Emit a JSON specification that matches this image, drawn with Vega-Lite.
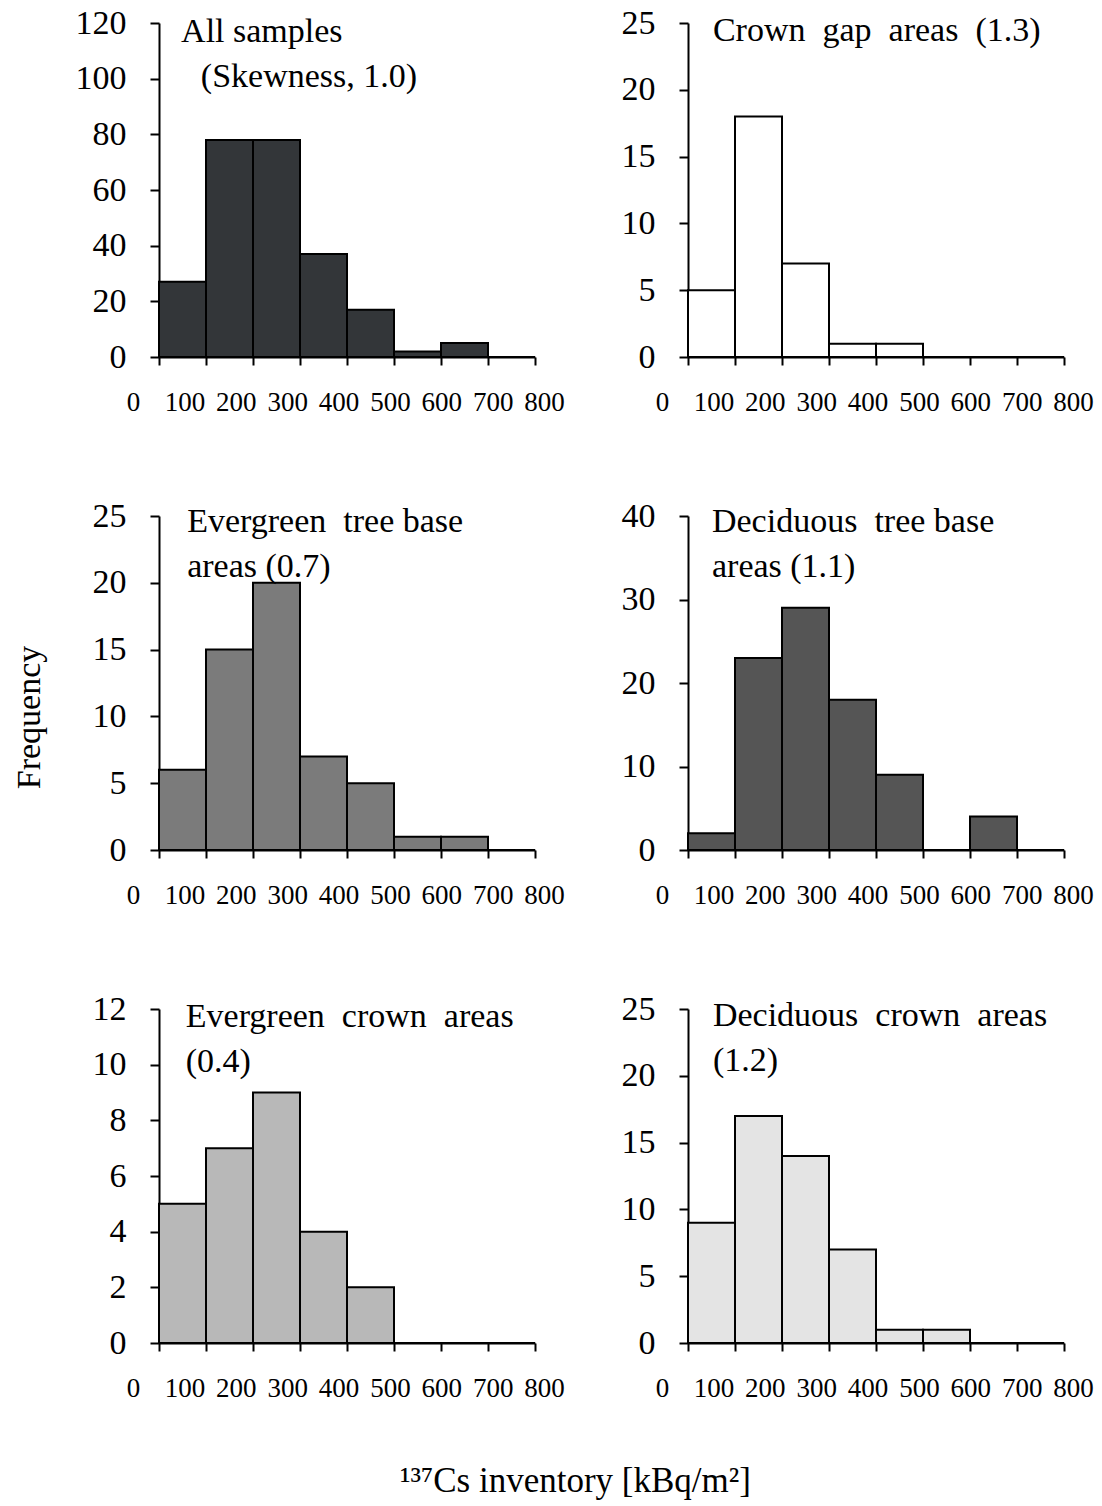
{
  "$schema": "https://vega.github.io/schema/vega-lite/v6.json",
  "padding": {"left": 12, "top": 6, "right": 5, "bottom": 5},
  "background": "white",
  "title": {"text": "¹³⁷Cs inventory [kBq/m²]", "orient": "bottom", "anchor": "middle", "fontSize": 35, "font": "Liberation Serif", "fontWeight": "normal", "color": "#000000", "offset": 63, "dx": 20},
  "datasets": {
    "hist": [
      {"panel": "all", "start": 0, "end": 100, "count": 27},
      {"panel": "all", "start": 100, "end": 200, "count": 78},
      {"panel": "all", "start": 200, "end": 300, "count": 78},
      {"panel": "all", "start": 300, "end": 400, "count": 37},
      {"panel": "all", "start": 400, "end": 500, "count": 17},
      {"panel": "all", "start": 500, "end": 600, "count": 2},
      {"panel": "all", "start": 600, "end": 700, "count": 5},
      {"panel": "all", "start": 700, "end": 800, "count": 0},
      {"panel": "gap", "start": 0, "end": 100, "count": 5},
      {"panel": "gap", "start": 100, "end": 200, "count": 18},
      {"panel": "gap", "start": 200, "end": 300, "count": 7},
      {"panel": "gap", "start": 300, "end": 400, "count": 1},
      {"panel": "gap", "start": 400, "end": 500, "count": 1},
      {"panel": "gap", "start": 500, "end": 600, "count": 0},
      {"panel": "gap", "start": 600, "end": 700, "count": 0},
      {"panel": "gap", "start": 700, "end": 800, "count": 0},
      {"panel": "etb", "start": 0, "end": 100, "count": 6},
      {"panel": "etb", "start": 100, "end": 200, "count": 15},
      {"panel": "etb", "start": 200, "end": 300, "count": 20},
      {"panel": "etb", "start": 300, "end": 400, "count": 7},
      {"panel": "etb", "start": 400, "end": 500, "count": 5},
      {"panel": "etb", "start": 500, "end": 600, "count": 1},
      {"panel": "etb", "start": 600, "end": 700, "count": 1},
      {"panel": "etb", "start": 700, "end": 800, "count": 0},
      {"panel": "dtb", "start": 0, "end": 100, "count": 2},
      {"panel": "dtb", "start": 100, "end": 200, "count": 23},
      {"panel": "dtb", "start": 200, "end": 300, "count": 29},
      {"panel": "dtb", "start": 300, "end": 400, "count": 18},
      {"panel": "dtb", "start": 400, "end": 500, "count": 9},
      {"panel": "dtb", "start": 500, "end": 600, "count": 0},
      {"panel": "dtb", "start": 600, "end": 700, "count": 4},
      {"panel": "dtb", "start": 700, "end": 800, "count": 0},
      {"panel": "ec", "start": 0, "end": 100, "count": 5},
      {"panel": "ec", "start": 100, "end": 200, "count": 7},
      {"panel": "ec", "start": 200, "end": 300, "count": 9},
      {"panel": "ec", "start": 300, "end": 400, "count": 4},
      {"panel": "ec", "start": 400, "end": 500, "count": 2},
      {"panel": "ec", "start": 500, "end": 600, "count": 0},
      {"panel": "ec", "start": 600, "end": 700, "count": 0},
      {"panel": "ec", "start": 700, "end": 800, "count": 0},
      {"panel": "dc", "start": 0, "end": 100, "count": 9},
      {"panel": "dc", "start": 100, "end": 200, "count": 17},
      {"panel": "dc", "start": 200, "end": 300, "count": 14},
      {"panel": "dc", "start": 300, "end": 400, "count": 7},
      {"panel": "dc", "start": 400, "end": 500, "count": 1},
      {"panel": "dc", "start": 500, "end": 600, "count": 1},
      {"panel": "dc", "start": 600, "end": 700, "count": 0},
      {"panel": "dc", "start": 700, "end": 800, "count": 0}
    ],
    "xlab": [{"v": 0}, {"v": 100}, {"v": 200}, {"v": 300}, {"v": 400}, {"v": 500}, {"v": 600}, {"v": 700}, {"v": 800}]
  },
  "columns": 2,
  "spacing": {"row": 84, "column": 51},
  "concat": [
    {
      "width": 376, "height": 334,
      "layer": [
        {"data": {"name": "hist"}, "transform": [{"filter": "datum.panel === 'all'"}],
         "mark": {"type": "rect", "fill": "#333639", "stroke": "#000000", "strokeWidth": 2},
         "encoding": {
           "x": {"field": "start", "type": "quantitative", "scale": {"domain": [0, 800], "nice": false, "zero": false}, "axis": {"orient": "bottom", "values": [0, 100, 200, 300, 400, 500, 600, 700, 800], "labels": false, "tickSize": 8, "title": null}},
           "x2": {"field": "end"},
           "y": {"field": "count", "type": "quantitative", "scale": {"domain": [0, 120], "nice": false}, "axis": {"values": [0, 20, 40, 60, 80, 100, 120], "title": null}},
           "y2": {"datum": 0}
         }},
        {"data": {"values": [{}]},
         "mark": {"type": "text", "text": "All samples", "align": "left", "baseline": "alphabetic", "fontSize": 34, "font": "Liberation Serif", "color": "#000000"},
         "encoding": {"x": {"datum": 47, "type": "quantitative", "scale": {"domain": [0, 800], "nice": false}, "axis": null}, "y": {"datum": 113.2, "type": "quantitative"}}},
        {"data": {"values": [{}]},
         "mark": {"type": "text", "text": "(Skewness, 1.0)", "align": "left", "baseline": "alphabetic", "fontSize": 34, "font": "Liberation Serif", "color": "#000000"},
         "encoding": {"x": {"datum": 89, "type": "quantitative", "scale": {"domain": [0, 800], "nice": false}, "axis": null}, "y": {"datum": 97, "type": "quantitative"}}},
        {"data": {"name": "xlab"},
         "mark": {"type": "point", "opacity": 0},
         "encoding": {"x": {"field": "v", "type": "quantitative", "scale": {"domain": [0, 800], "range": [-26, 385], "nice": false, "zero": false}, "axis": {"orient": "bottom", "values": [0, 100, 200, 300, 400, 500, 600, 700, 800], "domain": false, "ticks": false, "tickSize": 0, "labelPadding": 32, "labelFontSize": 27, "labelFlush": false, "labelOverlap": false, "title": null}}}}
      ],
      "resolve": {"scale": {"x": "independent"}, "axis": {"x": "independent"}}
    },
    {
      "width": 376, "height": 334,
      "layer": [
        {"data": {"name": "hist"}, "transform": [{"filter": "datum.panel === 'gap'"}],
         "mark": {"type": "rect", "fill": "#ffffff", "stroke": "#000000", "strokeWidth": 2},
         "encoding": {
           "x": {"field": "start", "type": "quantitative", "scale": {"domain": [0, 800], "nice": false, "zero": false}, "axis": {"orient": "bottom", "values": [0, 100, 200, 300, 400, 500, 600, 700, 800], "labels": false, "tickSize": 8, "title": null}},
           "x2": {"field": "end"},
           "y": {"field": "count", "type": "quantitative", "scale": {"domain": [0, 25], "nice": false}, "axis": {"values": [0, 5, 10, 15, 20, 25], "title": null}},
           "y2": {"datum": 0}
         }},
        {"data": {"values": [{}]},
         "mark": {"type": "text", "text": "Crown\u2002gap\u2002areas\u2002(1.3)", "align": "left", "baseline": "alphabetic", "fontSize": 34, "font": "Liberation Serif", "color": "#000000"},
         "encoding": {"x": {"datum": 53, "type": "quantitative", "scale": {"domain": [0, 800], "nice": false}, "axis": null}, "y": {"datum": 23.65, "type": "quantitative"}}},
        {"data": {"name": "xlab"},
         "mark": {"type": "point", "opacity": 0},
         "encoding": {"x": {"field": "v", "type": "quantitative", "scale": {"domain": [0, 800], "range": [-26, 385], "nice": false, "zero": false}, "axis": {"orient": "bottom", "values": [0, 100, 200, 300, 400, 500, 600, 700, 800], "domain": false, "ticks": false, "tickSize": 0, "labelPadding": 32, "labelFontSize": 27, "labelFlush": false, "labelOverlap": false, "title": null}}}}
      ],
      "resolve": {"scale": {"x": "independent"}, "axis": {"x": "independent"}}
    },
    {
      "width": 376, "height": 334,
      "layer": [
        {"data": {"name": "hist"}, "transform": [{"filter": "datum.panel === 'etb'"}],
         "mark": {"type": "rect", "fill": "#7b7b7b", "stroke": "#000000", "strokeWidth": 2},
         "encoding": {
           "x": {"field": "start", "type": "quantitative", "scale": {"domain": [0, 800], "nice": false, "zero": false}, "axis": {"orient": "bottom", "values": [0, 100, 200, 300, 400, 500, 600, 700, 800], "labels": false, "tickSize": 8, "title": null}},
           "x2": {"field": "end"},
           "y": {"field": "count", "type": "quantitative", "scale": {"domain": [0, 25], "nice": false}, "axis": {"values": [0, 5, 10, 15, 20, 25], "title": "Frequency", "titleFontSize": 34, "titlePadding": 46, "titleY": 201}},
           "y2": {"datum": 0}
         }},
        {"data": {"values": [{}]},
         "mark": {"type": "text", "text": ["Evergreen\u2002tree base", "areas (0.7)"], "align": "left", "baseline": "alphabetic", "fontSize": 34, "lineHeight": 45, "font": "Liberation Serif", "color": "#000000"},
         "encoding": {"x": {"datum": 60, "type": "quantitative", "scale": {"domain": [0, 800], "nice": false}, "axis": null}, "y": {"datum": 23.8, "type": "quantitative"}}},
        {"data": {"name": "xlab"},
         "mark": {"type": "point", "opacity": 0},
         "encoding": {"x": {"field": "v", "type": "quantitative", "scale": {"domain": [0, 800], "range": [-26, 385], "nice": false, "zero": false}, "axis": {"orient": "bottom", "values": [0, 100, 200, 300, 400, 500, 600, 700, 800], "domain": false, "ticks": false, "tickSize": 0, "labelPadding": 32, "labelFontSize": 27, "labelFlush": false, "labelOverlap": false, "title": null}}}}
      ],
      "resolve": {"scale": {"x": "independent"}, "axis": {"x": "independent"}}
    },
    {
      "width": 376, "height": 334,
      "layer": [
        {"data": {"name": "hist"}, "transform": [{"filter": "datum.panel === 'dtb'"}],
         "mark": {"type": "rect", "fill": "#555555", "stroke": "#000000", "strokeWidth": 2},
         "encoding": {
           "x": {"field": "start", "type": "quantitative", "scale": {"domain": [0, 800], "nice": false, "zero": false}, "axis": {"orient": "bottom", "values": [0, 100, 200, 300, 400, 500, 600, 700, 800], "labels": false, "tickSize": 8, "title": null}},
           "x2": {"field": "end"},
           "y": {"field": "count", "type": "quantitative", "scale": {"domain": [0, 40], "nice": false}, "axis": {"values": [0, 10, 20, 30, 40], "title": null}},
           "y2": {"datum": 0}
         }},
        {"data": {"values": [{}]},
         "mark": {"type": "text", "text": ["Deciduous\u2002tree base", "areas (1.1)"], "align": "left", "baseline": "alphabetic", "fontSize": 34, "lineHeight": 45, "font": "Liberation Serif", "color": "#000000"},
         "encoding": {"x": {"datum": 51, "type": "quantitative", "scale": {"domain": [0, 800], "nice": false}, "axis": null}, "y": {"datum": 38.1, "type": "quantitative"}}},
        {"data": {"name": "xlab"},
         "mark": {"type": "point", "opacity": 0},
         "encoding": {"x": {"field": "v", "type": "quantitative", "scale": {"domain": [0, 800], "range": [-26, 385], "nice": false, "zero": false}, "axis": {"orient": "bottom", "values": [0, 100, 200, 300, 400, 500, 600, 700, 800], "domain": false, "ticks": false, "tickSize": 0, "labelPadding": 32, "labelFontSize": 27, "labelFlush": false, "labelOverlap": false, "title": null}}}}
      ],
      "resolve": {"scale": {"x": "independent"}, "axis": {"x": "independent"}}
    },
    {
      "width": 376, "height": 334,
      "layer": [
        {"data": {"name": "hist"}, "transform": [{"filter": "datum.panel === 'ec'"}],
         "mark": {"type": "rect", "fill": "#b8b8b8", "stroke": "#000000", "strokeWidth": 2},
         "encoding": {
           "x": {"field": "start", "type": "quantitative", "scale": {"domain": [0, 800], "nice": false, "zero": false}, "axis": {"orient": "bottom", "values": [0, 100, 200, 300, 400, 500, 600, 700, 800], "labels": false, "tickSize": 8, "title": null}},
           "x2": {"field": "end"},
           "y": {"field": "count", "type": "quantitative", "scale": {"domain": [0, 12], "nice": false}, "axis": {"values": [0, 2, 4, 6, 8, 10, 12], "title": null}},
           "y2": {"datum": 0}
         }},
        {"data": {"values": [{}]},
         "mark": {"type": "text", "text": ["Evergreen\u2002crown\u2002areas", "(0.4)"], "align": "left", "baseline": "alphabetic", "fontSize": 34, "lineHeight": 45, "font": "Liberation Serif", "color": "#000000"},
         "encoding": {"x": {"datum": 57, "type": "quantitative", "scale": {"domain": [0, 800], "nice": false}, "axis": null}, "y": {"datum": 11.35, "type": "quantitative"}}},
        {"data": {"name": "xlab"},
         "mark": {"type": "point", "opacity": 0},
         "encoding": {"x": {"field": "v", "type": "quantitative", "scale": {"domain": [0, 800], "range": [-26, 385], "nice": false, "zero": false}, "axis": {"orient": "bottom", "values": [0, 100, 200, 300, 400, 500, 600, 700, 800], "domain": false, "ticks": false, "tickSize": 0, "labelPadding": 32, "labelFontSize": 27, "labelFlush": false, "labelOverlap": false, "title": null}}}}
      ],
      "resolve": {"scale": {"x": "independent"}, "axis": {"x": "independent"}}
    },
    {
      "width": 376, "height": 334,
      "layer": [
        {"data": {"name": "hist"}, "transform": [{"filter": "datum.panel === 'dc'"}],
         "mark": {"type": "rect", "fill": "#e4e4e4", "stroke": "#000000", "strokeWidth": 2},
         "encoding": {
           "x": {"field": "start", "type": "quantitative", "scale": {"domain": [0, 800], "nice": false, "zero": false}, "axis": {"orient": "bottom", "values": [0, 100, 200, 300, 400, 500, 600, 700, 800], "labels": false, "tickSize": 8, "title": null}},
           "x2": {"field": "end"},
           "y": {"field": "count", "type": "quantitative", "scale": {"domain": [0, 25], "nice": false}, "axis": {"values": [0, 5, 10, 15, 20, 25], "title": null}},
           "y2": {"datum": 0}
         }},
        {"data": {"values": [{}]},
         "mark": {"type": "text", "text": ["Deciduous\u2002crown\u2002areas", "(1.2)"], "align": "left", "baseline": "alphabetic", "fontSize": 34, "lineHeight": 45, "font": "Liberation Serif", "color": "#000000"},
         "encoding": {"x": {"datum": 53, "type": "quantitative", "scale": {"domain": [0, 800], "nice": false}, "axis": null}, "y": {"datum": 23.7, "type": "quantitative"}}},
        {"data": {"name": "xlab"},
         "mark": {"type": "point", "opacity": 0},
         "encoding": {"x": {"field": "v", "type": "quantitative", "scale": {"domain": [0, 800], "range": [-26, 385], "nice": false, "zero": false}, "axis": {"orient": "bottom", "values": [0, 100, 200, 300, 400, 500, 600, 700, 800], "domain": false, "ticks": false, "tickSize": 0, "labelPadding": 32, "labelFontSize": 27, "labelFlush": false, "labelOverlap": false, "title": null}}}}
      ],
      "resolve": {"scale": {"x": "independent"}, "axis": {"x": "independent"}}
    }
  ],
  "config": {
    "font": "Liberation Serif",
    "view": {"stroke": null},
    "axis": {"domainColor": "#000000", "domainWidth": 2, "tickColor": "#000000", "tickWidth": 2, "labelColor": "#000000", "labelFont": "Liberation Serif", "titleFont": "Liberation Serif", "titleFontWeight": "normal", "titleColor": "#000000", "grid": false},
    "axisY": {"labelFontSize": 34, "tickSize": 9, "labelPadding": 24},
    "axisX": {"labelFontSize": 27}
  }
}
